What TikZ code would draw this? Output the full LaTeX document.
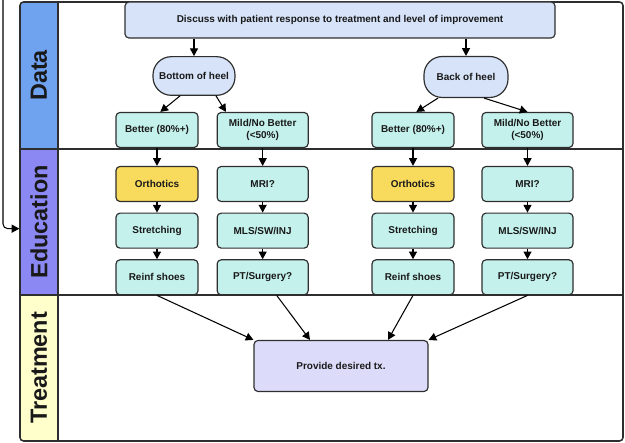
\documentclass[tikz,border=0pt]{standalone}
\usepackage{fontspec}
\setmainfont{Liberation Sans}
\usetikzlibrary{arrows.meta}

\definecolor{datablue}{HTML}{6FA2EF}
\definecolor{edupurple}{HTML}{8C88F3}
\definecolor{treatyellow}{HTML}{FFFFCC}
\definecolor{askblue}{HTML}{D6E3F8}
\definecolor{tealbox}{HTML}{C4F1EC}
\definecolor{orthoyellow}{HTML}{F8DA5C}
\definecolor{txlilac}{HTML}{DCDCFA}
\definecolor{edgegray}{HTML}{2E2E2E}

\begin{document}
\begin{tikzpicture}[node distance=1.4cm,
		every node/.style={text=black!90},
		box/.style={draw=edgegray, line width=1pt, rounded corners=1.2mm, fill=tealbox, minimum width=2.46cm, minimum height=1.05cm, align=center, inner sep=1pt, font=\fontsize{8.5}{10}\selectfont\bfseries},
		widebox/.style={box, minimum width=2.73cm},
		heel/.style={box, fill=askblue, rounded corners=5.5mm, minimum height=1.16cm},
		lanehead/.style={draw=edgegray, line width=1pt, rotate=90, minimum height=1.14cm, font=\fontsize{20}{24}\selectfont\bfseries},
		arr/.style={-{Triangle[length=2.3mm,width=2.4mm]}, line width=0.9pt, draw=black}]
			\useasboundingbox (0,0) rectangle (18.75,13.29);
			
			\begin{scope}
				\clip [rounded corners=3pt] (0.6,0.06) rectangle (18.69,13.23);
				\node [lanehead, fill=datablue, minimum width=4.41cm] (datalane) at (1.17,11.025) {Data};
				\node [lanehead, fill=edupurple, minimum width=4.38cm] (edulane) at (1.17,6.63) {Education};
				\node [lanehead, fill=treatyellow, minimum width=4.38cm] (treatlane) at (1.17,2.25) {Treatment};
			\end{scope}
			\draw [line width=1pt, draw=edgegray] (1.74,8.82) -- (18.69,8.82);
			\draw [line width=1pt, draw=edgegray] (1.74,4.44) -- (18.69,4.44);
			\draw [line width=1.3pt, draw=edgegray, rounded corners=3pt] (0.6,0.06) rectangle (18.69,13.23);
			
			\node [box, fill=askblue, minimum width=12.9cm, minimum height=1.08cm] (discuss) at (10.2,12.69) {Discuss with patient response to treatment and level of improvement};
			
			\node [heel] (bottomheel) at (5.82,11.01) {Bottom of heel};
			\node [heel, minimum width=2.52cm, minimum height=1.23cm] (backheel) at (13.98,10.98) {Back of heel};
			
			\node [box, below of=bottomheel, xshift=-1.11cm, yshift=-.22cm] (better1) {Better (80\%+)};
			\node [widebox, right of=better1, xshift=1.77cm] (mild1) {Mild/No Better\\(<50\%)};
			\node [box, below of=backheel, xshift=-1.59cm, yshift=-.19cm] (better2) {Better (80\%+)};
			\node [widebox, right of=better2, xshift=2.035cm] (mild2) {Mild/No Better\\(<50\%)};
			
			\node [box, fill=orthoyellow, below of=better1, yshift=-.22cm] (ortho1) {Orthotics};
			\node [box, below of=ortho1] (stretch1) {Stretching};
			\node [box, below of=stretch1] (shoes1) {Reinf shoes};
			\node [widebox, below of=mild1, yshift=-.22cm] (mri1) {MRI?};
			\node [widebox, below of=mri1] (mls1) {MLS/SW/INJ};
			\node [widebox, below of=mls1] (pt1) {PT/Surgery?};
			
			\node [box, fill=orthoyellow, below of=better2, yshift=-.22cm] (ortho2) {Orthotics};
			\node [box, below of=ortho2] (stretch2) {Stretching};
			\node [box, below of=stretch2] (shoes2) {Reinf shoes};
			\node [widebox, below of=mild2, yshift=-.22cm] (mri2) {MRI?};
			\node [widebox, below of=mri2] (mls2) {MLS/SW/INJ};
			\node [widebox, below of=mls2] (pt2) {PT/Surgery?};
			
			\node [box, fill=txlilac, minimum width=5.22cm, minimum height=1.53cm] (provide) at (10.23,2.31) {Provide desired tx.};
			
			\coordinate (loopin) at (0.09,13.4);
			\draw [arr, rounded corners=4pt] (loopin) |- ([yshift=-2mm]edulane.north);
			
			\draw [arr] (discuss.south -| bottomheel) -- (bottomheel);
			\draw [arr] (discuss.south -| backheel) -- (backheel);
			\draw [arr] ([xshift=-4.2mm]bottomheel.south) -- ([xshift=1mm]better1.north);
			\draw [arr] ([xshift=6.6mm]bottomheel.south) -- ([xshift=-11mm]mild1.north);
			\draw [arr] ([xshift=-8.4mm]backheel.south) -- ([xshift=1mm]better2.north);
			\draw [arr] ([xshift=5.4mm]backheel.south) -- (mild2.north);
			
			\draw [arr] (better1) -- (ortho1);
			\draw [arr] (ortho1) -- (stretch1);
			\draw [arr] (stretch1) -- (shoes1);
			\draw [arr] (mild1) -- (mri1);
			\draw [arr] (mri1) -- (mls1);
			\draw [arr] (mls1) -- (pt1);
			\draw [arr] (better2) -- (ortho2);
			\draw [arr] (ortho2) -- (stretch2);
			\draw [arr] (stretch2) -- (shoes2);
			\draw [arr] (mild2) -- (mri2);
			\draw [arr] (mri2) -- (mls2);
			\draw [arr] (mls2) -- (pt2);
			
			\draw [arr] (shoes1.south) -- (provide.north west);
			\draw [arr] ([xshift=4.2mm]pt1.south) -- ([xshift=-9.3mm]provide.north);
			\draw [arr] (shoes2.south) -- ([xshift=14.1mm]provide.north);
			\draw [arr] (pt2.south) -- (provide.north east);
		\end{tikzpicture}
\end{document}
